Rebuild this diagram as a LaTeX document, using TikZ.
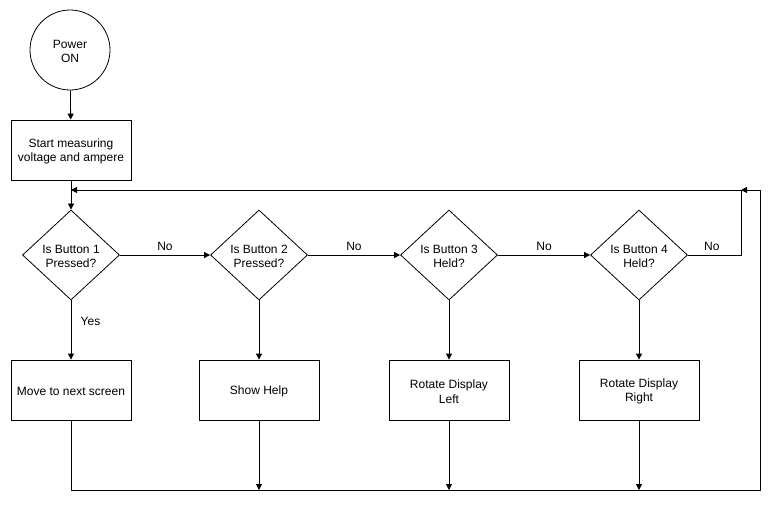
\documentclass[tikz,border=0pt]{standalone}
\usepackage{fontspec}
\setmainfont{Liberation Sans}
\usetikzlibrary{shapes.geometric,arrows.meta}
\begin{document}
\begin{tikzpicture}[x=1pt,y=-1pt,
  every node/.style={font=\fontsize{12}{14.5}\selectfont, align=center},
  box/.style={draw, line width=0.8pt, minimum width=120pt, minimum height=60pt, inner sep=0pt},
  dec/.style={draw, line width=0.8pt, diamond, inner sep=0pt, minimum width=97pt, minimum height=90pt},
  startc/.style={draw, line width=0.8pt, circle, minimum size=80pt, inner sep=0pt},
  txt/.style={yshift=-1.5pt},
  conn/.style={line width=0.8pt},
  arr/.style={conn, -{Triangle[length=6pt,width=6pt]}},
  lbl/.style={font=\fontsize{12}{14}\selectfont}]
\useasboundingbox (0,0) rectangle (779,509);
\node[startc] (pw) at (70,50) {};
\node[txt] (pwt) at (70,50) {Power\\ON};
\node[box] (sm) at (71,150) {};
\node[txt] (smt) at (71,150) {Start measuring\\voltage and ampere};
\node[dec] (d1) at (71,255) {};
\node[txt] (t1) at (71,255) {Is Button 1\\Pressed?};
\node[dec] (d2) at (259,255) {};
\node[txt] (t2) at (259,255) {Is Button 2\\Pressed?};
\node[dec] (d3) at (449,255) {};
\node[txt] (t3) at (449,255) {Is Button 3\\Held?};
\node[dec] (d4) at (639,255) {};
\node[txt] (t4) at (639,255) {Is Button 4\\Held?};
\node[box] (r1) at (71,390) {};
\node[txt] (r1t) at (71,390) {Move to next screen};
\node[box] (r2) at (259,390) {};
\node[txt] (r2t) at (259,390) {Show Help};
\node[box] (r3) at (449,390) {};
\node[txt] (r3t) at (449,390) {Rotate Display\\Left};
\node[box] (r4) at (639,390) {};
\node[txt] (r4t) at (639,390) {Rotate Display\\Right};
\coordinate (top1) at (71,190);
\coordinate (loopR) at (741,190);
\coordinate (outR) at (760,190);
\coordinate (b1) at (71,490);
\coordinate (b2) at (259,490);
\coordinate (b3) at (449,490);
\coordinate (b4) at (639,490);
\coordinate (bR) at (760,490);
\draw[arr] (pw) -- (sm);
\draw[arr] (sm) -- (d1);
\draw[arr] (d1.east) -- node[lbl, above=1pt] {No} (d2.west);
\draw[arr] (d2.east) -- node[lbl, above=1pt] {No} (d3.west);
\draw[arr] (d3.east) -- node[lbl, above=1pt] {No} (d4.west);
\draw[arr] (d4.east) -- node[lbl, above=1pt, pos=0.45] {No} (741,255) -- (loopR) -- (top1);
\draw[arr] (d1.south) -- node[lbl, right=6pt, pos=0.35] {Yes} (r1.north);
\draw[arr] (d2.south) -- (r2.north);
\draw[arr] (d3.south) -- (r3.north);
\draw[arr] (d4.south) -- (r4.north);
\draw[arr] (r1.south) -- (b1) -- (bR) -- (outR) -- (loopR);
\draw[arr] (r2.south) -- (b2);
\draw[arr] (r3.south) -- (b3);
\draw[arr] (r4.south) -- (b4);
\end{tikzpicture}
\end{document}
